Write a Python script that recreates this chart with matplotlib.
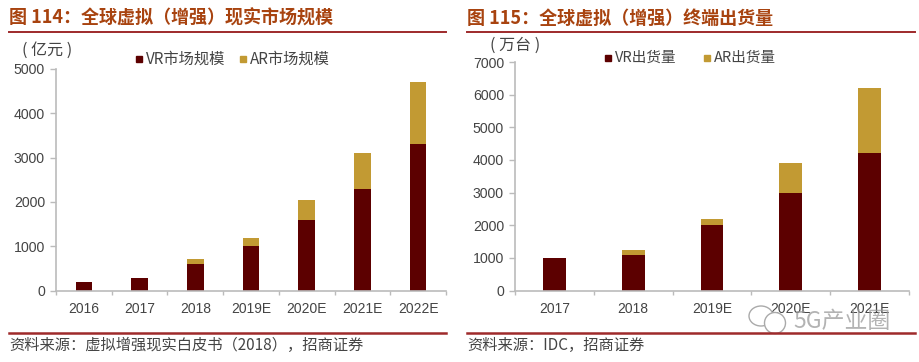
import matplotlib
matplotlib.use('Agg')
import matplotlib.pyplot as plt
from matplotlib.patches import Ellipse

plt.rcParams['font.family'] = ['Noto Sans CJK SC', 'DejaVu Sans']

VR_COLOR = '#5c0000'
AR_COLOR = '#c29a33'
TITLE_COLOR = '#a8430f'
LINE_COLOR = '#9e2a2b'
TEXT_COLOR = '#444444'
W, H = 920, 362

years_left = ['2016', '2017', '2018', '2019E', '2020E', '2021E', '2022E']
vr_market = [190, 280, 590, 1000, 1590, 2300, 3300]
ar_market = [0, 0, 110, 190, 450, 800, 1400]
ticks_left = [0, 1000, 2000, 3000, 4000, 5000]

years_right = ['2017', '2018', '2019E', '2020E', '2021E']
vr_ship = [1000, 1100, 2000, 3000, 4200]
ar_ship = [0, 130, 180, 900, 2000]
ticks_right = [0, 1000, 2000, 3000, 4000, 5000, 6000, 7000]

# full width punctuation, as in the reference
COLON, LP, RP, COMMA = '\uff1a', '\uff08', '\uff09', '\uff0c'
title_left = '图 114' + COLON + '全球虚拟' + LP + '增强' + RP + '现实市场规模'
title_right = '图 115' + COLON + '全球虚拟' + LP + '增强' + RP + '终端出货量'
source_left = '资料来源' + COLON + '虚拟增强现实白皮书' + LP + '2018' + RP + COMMA + '招商证券'
source_right = '资料来源' + COLON + 'IDC' + COMMA + '招商证券'


def make_axes(fig, x0, x1, y_top, y_bottom):
    return fig.add_axes([x0 / W, 1 - y_bottom / H, (x1 - x0) / W, (y_bottom - y_top) / H])


def draw_panel(ax, cats, vr, ar, yticks, width):
    xs = list(range(len(cats)))
    ax.bar(xs, vr, width=width, color=VR_COLOR)
    ax.bar(xs, ar, width=width, bottom=vr, color=AR_COLOR)
    ax.set_xlim(-0.5, len(cats) - 0.5)
    ax.set_ylim(yticks[0], yticks[-1])
    ax.set_yticks(yticks)
    # ticks sit between the categories, labels under the bars
    ax.set_xticks([x - 0.5 for x in xs] + [len(cats) - 0.5])
    ax.set_xticklabels([])
    ax.set_xticks(xs, labels=cats, minor=True)
    ax.tick_params(axis='x', which='major', length=3, color='#bbbbbb', width=1, direction='out')
    ax.tick_params(axis='x', which='minor', length=0, pad=8, labelsize=10, labelcolor=TEXT_COLOR)
    ax.tick_params(axis='y', length=4, color='#bbbbbb', width=1, pad=4, labelsize=10.2, labelcolor=TEXT_COLOR)
    for lab in ax.get_yticklabels() + ax.get_xticklabels(minor=True):
        lab.set_family(['Liberation Sans', 'DejaVu Sans'])
    ax.spines['top'].set_visible(False)
    ax.spines['right'].set_visible(False)
    ax.spines['left'].set_color('#bbbbbb')
    ax.spines['bottom'].set_color('#bbbbbb')
    ax.spines['left'].set_linewidth(1.2)
    ax.spines['bottom'].set_linewidth(1.2)


def px_text(fig, x, y, s, **kw):
    return fig.text(x / W, 1 - y / H, s, va='center', **kw)


def px_line(fig, x0, x1, y, lw):
    fig.add_artist(plt.Line2D([x0 / W, x1 / W], [1 - y / H, 1 - y / H], color=LINE_COLOR, lw=lw))


def legend_item(fig, x, y, color, s, size):
    fig.patches.append(plt.Rectangle((x / W, 1 - (y + 3) / H), 6 / W, 6 / H, color=color,
                                     transform=fig.transFigure, figure=fig))
    px_text(fig, x + 10, y, s, fontsize=size, color=TEXT_COLOR)


fig = plt.figure(figsize=(W / 100, H / 100), dpi=100)

ax1 = make_axes(fig, 56, 446, 69, 290.5)
draw_panel(ax1, years_left, vr_market, ar_market, ticks_left, 0.3)
ax2 = make_axes(fig, 515, 909, 62, 290.5)
draw_panel(ax2, years_right, vr_ship, ar_ship, ticks_right, 0.29)

px_text(fig, 9, 18, title_left, fontsize=13, fontweight='bold', color=TITLE_COLOR)
px_text(fig, 467, 18, title_right, fontsize=13, fontweight='bold', color=TITLE_COLOR)
px_line(fig, 9, 446, 32, 1.4)
px_line(fig, 467, 915, 32, 1.4)

px_text(fig, 22, 50, '( 亿元 )', fontsize=11.5, color=TEXT_COLOR)
px_text(fig, 490, 45, '( 万台 )', fontsize=11.5, color=TEXT_COLOR)

legend_item(fig, 136, 59, VR_COLOR, 'VR市场规模', 11)
legend_item(fig, 240, 59, AR_COLOR, 'AR市场规模', 11)
legend_item(fig, 605, 58, VR_COLOR, 'VR出货量', 10.5)
legend_item(fig, 704, 58, AR_COLOR, 'AR出货量', 10.5)

px_line(fig, 9, 446, 333, 1.8)
px_line(fig, 467, 915, 333, 1.8)
px_text(fig, 9, 345, source_left, fontsize=11, color=TEXT_COLOR)
px_text(fig, 467, 345, source_right, fontsize=11, color=TEXT_COLOR)

# watermark in the lower right corner
px_text(fig, 793, 321, '5G产业圈', fontsize=16.5, color='#9a9a9a', alpha=0.75)
for cx, cy, w, h in [(761, 316, 24, 20), (775, 323, 21, 21)]:
    fig.add_artist(Ellipse((cx / W, 1 - cy / H), w / W, h / H, fill=True, facecolor='white',
                           edgecolor='#aaaaaa', lw=1, transform=fig.transFigure))

fig.savefig('out.png', dpi=100)
